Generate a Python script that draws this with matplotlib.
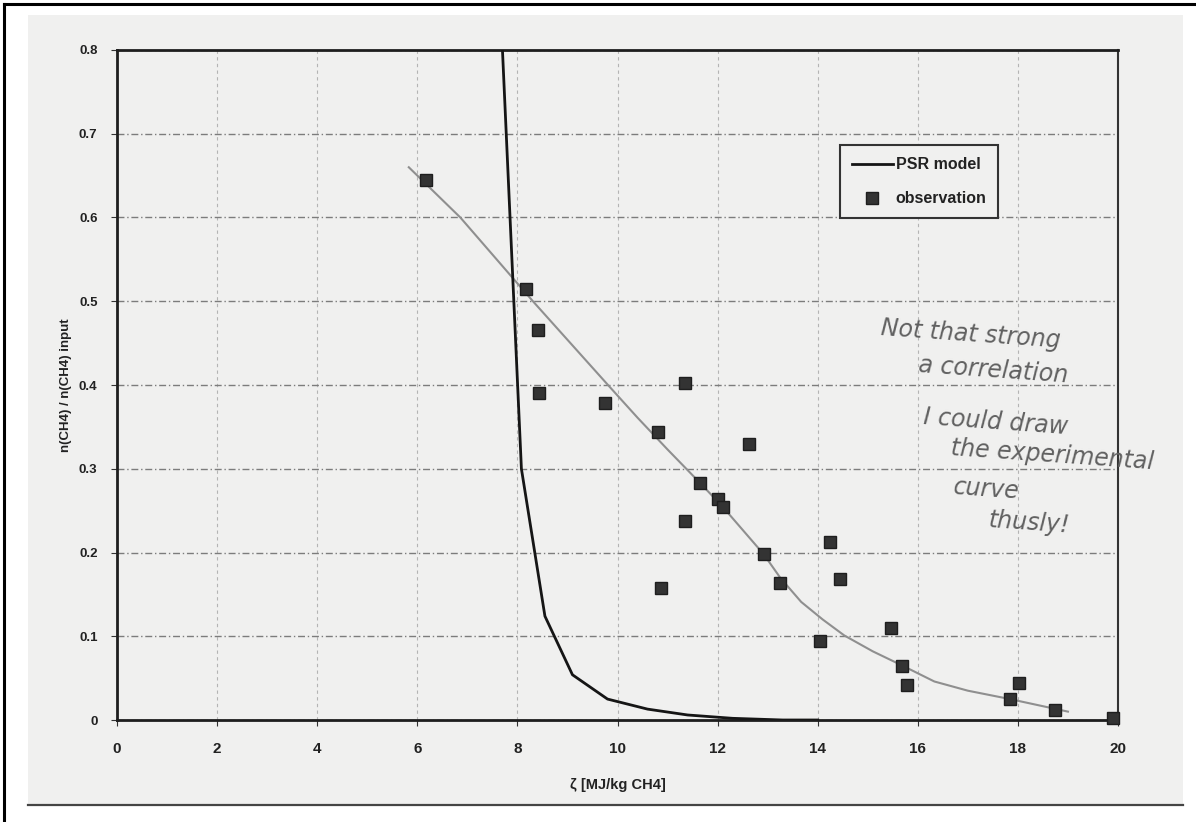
import matplotlib

matplotlib.use("Agg")
import matplotlib.pyplot as plt
from matplotlib.lines import Line2D
from matplotlib.patches import Rectangle

# measured CH4 conversion vs specific energy input
obs_zeta = [6.18, 8.18, 8.41, 8.43, 9.75, 11.35, 10.80, 12.63, 11.65, 12.00,
            12.11, 11.35, 14.24, 12.92, 14.44, 13.25, 10.87, 15.47, 14.04,
            15.69, 15.79, 18.03, 17.84, 18.75, 19.90]
obs_ratio = [0.645, 0.515, 0.466, 0.391, 0.378, 0.402, 0.344, 0.329, 0.283,
             0.264, 0.254, 0.238, 0.213, 0.198, 0.168, 0.164, 0.158, 0.110,
             0.094, 0.064, 0.042, 0.044, 0.025, 0.012, 0.002]

# perfectly-stirred-reactor model
psr_zeta = [7.55, 8.08, 8.55, 9.10, 9.80, 10.60, 11.40, 12.30, 13.30, 14.00]
psr_ratio = [1.00, 0.300, 0.124, 0.054, 0.025, 0.013, 0.006, 0.002, 0.0, 0.0]

# hand-drawn trend through the observations
trend_zeta = [5.83, 6.86, 8.31, 9.81, 10.40, 11.00, 11.65, 12.11, 12.92, 13.25,
              13.67, 14.10, 14.53, 15.10, 15.69, 16.33, 17.00, 17.84, 19.00]
trend_ratio = [0.660, 0.600, 0.500, 0.400, 0.361, 0.323, 0.283, 0.254, 0.198,
               0.170, 0.141, 0.120, 0.101, 0.082, 0.065, 0.046, 0.035, 0.025,
               0.010]

note_lines = ["Not that strong", "a correlation", "I could draw",
              "the experimental", "curve", "thusly!"]

x_ticks = [0, 2, 4, 6, 8, 10, 12, 14, 16, 18, 20]
y_ticks = [0, 0.1, 0.2, 0.3, 0.4, 0.5, 0.6, 0.7, 0.8]
y_ticklabels = ["0", "0.1", "0.2", "0.3", "0.4", "0.5", "0.6", "0.7", "0.8"]

W, H = 1196, 822
plt.rcParams["font.family"] = ["Liberation Sans", "DejaVu Sans"]
fig = plt.figure(figsize=(W / 100, H / 100), dpi=100, facecolor="white")

# paper background and frame lines
fig.patches.append(Rectangle((28 / W, 1 - 804 / H), (1183 - 28) / W, (804 - 15) / H,
                             transform=fig.transFigure, facecolor="#f0f0ef",
                             edgecolor="none", zorder=-5))
fig.lines.append(Line2D([4 / W, 4 / W], [0, 1 - 4 / H], transform=fig.transFigure,
                        color="black", lw=2.2, zorder=-4))
fig.lines.append(Line2D([4 / W, 1], [1 - 4 / H, 1 - 4 / H], transform=fig.transFigure,
                        color="black", lw=2.2, zorder=-4))
fig.lines.append(Line2D([28 / W, 1183 / W], [1 - 805 / H, 1 - 805 / H],
                        transform=fig.transFigure, color="#444444", lw=1.6,
                        zorder=-4))

ax = fig.add_axes([117 / W, 1 - 720 / H, (1118 - 117) / W, (720 - 50) / H])
ax.set_zorder(2)
ax.set_facecolor("#f0f0ef")
ax.set_xlim(0, 20)
ax.set_ylim(0, 0.8)

ax.set_xticks(x_ticks)
ax.set_yticks(y_ticks)
ax.set_yticklabels(y_ticklabels)
ax.tick_params(axis="x", labelsize=11, pad=12, length=4, color="#333333",
               labelcolor="#222222")
ax.tick_params(axis="y", labelsize=9.5, pad=10, length=4, color="#333333",
               labelcolor="#222222")
for lab in ax.get_xticklabels() + ax.get_yticklabels():
    lab.set_fontweight("bold")

ax.grid(axis="y", color="#7c7c7c", lw=1.0, linestyle=(0, (5, 2, 1, 2)))
ax.grid(axis="x", color="#b4b4b4", lw=0.8, linestyle=(0, (3, 3)))
ax.set_axisbelow(True)
for side in ["top", "left", "bottom"]:
    ax.spines[side].set_linewidth(2.0)
    ax.spines[side].set_color("#1e1e1e")
ax.spines["right"].set_linewidth(1.5)
ax.spines["right"].set_color("#333333")

ax.plot(trend_zeta, trend_ratio, color="#8f8f8f", lw=1.5, zorder=3)
ax.plot(psr_zeta, psr_ratio, color="#151515", lw=2.0, zorder=4, label="PSR model")
ax.plot(obs_zeta, obs_ratio, linestyle="none", marker="s", ms=8.5,
        color="#333333", mec="#1e1e1e", zorder=5, label="observation",
        clip_on=False)

ax.set_xlabel("ζ [MJ/kg CH4]", fontsize=10.5, fontweight="bold", color="#222222",
              labelpad=16)
ax.set_ylabel("n(CH4) / n(CH4) input", fontsize=9.5, fontweight="bold",
              color="#222222", labelpad=5)

leg = ax.legend(loc="upper left", bbox_to_anchor=(0.722, 0.858), fancybox=False,
                framealpha=1, facecolor="#f0f0ef", edgecolor="#333333",
                fontsize=11.5, handlelength=2.6, handletextpad=0.15,
                borderpad=0.75, borderaxespad=0, labelspacing=1.2)
leg.get_frame().set_linewidth(1.5)
for t in leg.get_texts():
    t.set_fontweight("bold")
    t.set_color("#222222")

# handwritten remark
note_pos = [(15.25, 0.460), (16.0, 0.418), (16.1, 0.356),
            (16.65, 0.316), (16.7, 0.275), (17.4, 0.235)]
for (nx, ny), line in zip(note_pos, note_lines):
    ax.text(nx, ny, line, fontsize=17, fontstyle="italic", color="#606060",
            family=["DejaVu Sans"], rotation=-4, va="center", ha="left",
            zorder=6)

fig.savefig("out.png", dpi=100, facecolor="white")
